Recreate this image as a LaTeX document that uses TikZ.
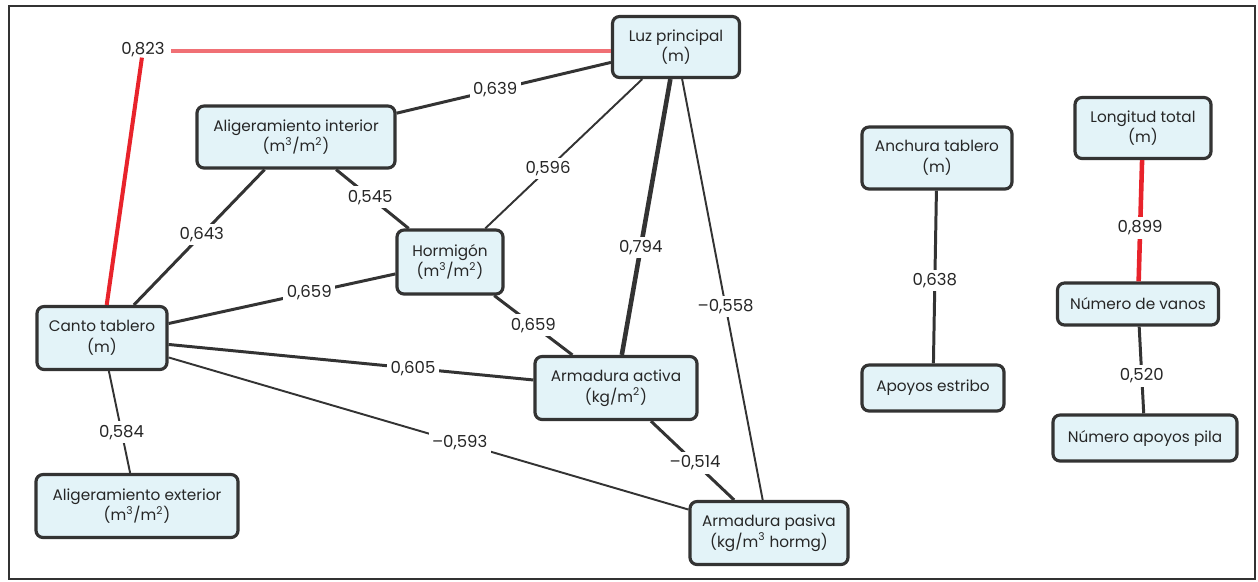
\documentclass[tikz,border=0pt]{standalone}
\usepackage{fontspec}
\setmainfont{Poppins}
\usepackage{tikz}
\definecolor{celeste}{HTML}{E3F3F8}
\definecolor{borde}{HTML}{333333}
\definecolor{rojo}{HTML}{E8232B}
\definecolor{rojoclaro}{HTML}{F07075}

\begin{document}
\begin{tikzpicture}
		\tikzstyle{every node}=[font=\fontsize{8.7}{11.8}\selectfont, text=black!85]
		\tikzstyle{caja}=[draw=borde, line width=1.8pt, rounded corners=4pt, fill=celeste, align=center, inner sep=2pt]
		\tikzstyle{valor}=[fill=white, inner sep=2pt, text=black!85, font=\fontsize{9.4}{10}\selectfont]
		\tikzstyle{fino}=[draw=borde, line width=1.1pt]
		\tikzstyle{medio}=[draw=borde, line width=1.7pt]
		\tikzstyle{grueso}=[draw=borde, line width=2.6pt]
		\useasboundingbox (0,0) rectangle (25.16,-11.62);
		\draw[borde, line width=1pt] (0.18,-0.12) rectangle (25.1,-11.58);

		\node[caja, minimum width=2.54cm, minimum height=1.22cm] (Luz) at (13.52,-0.94) {Luz principal\\(m)};
		\node[caja, minimum width=3.96cm, minimum height=1.24cm] (AligInt) at (5.92,-2.74) {Aligeramiento interior\\(m\textsuperscript{3}/m\textsuperscript{2})};
		\node[caja, minimum width=2.12cm, minimum height=1.28cm] (Hormigon) at (9.0,-5.24) {Hormigón\\(m\textsuperscript{3}/m\textsuperscript{2})};
		\node[caja, minimum width=2.6cm, minimum height=1.26cm] (Canto) at (2.04,-6.76) {Canto tablero\\(m)};
		\node[caja, minimum width=4.04cm, minimum height=1.26cm] (AligExt) at (2.74,-10.12) {Aligeramiento exterior\\(m\textsuperscript{3}/m\textsuperscript{2})};
		\node[caja, minimum width=3.24cm, minimum height=1.26cm] (ArmAct) at (12.32,-7.76) {Armadura activa\\(kg/m\textsuperscript{2})};
		\node[caja, minimum width=3.16cm, minimum height=1.26cm] (ArmPas) at (15.38,-10.66) {Armadura pasiva\\(kg/m\textsuperscript{3} hormg)};
		\node[caja, minimum width=3.0cm, minimum height=1.24cm] (Anchura) at (18.74,-3.16) {Anchura tablero\\(m)};
		\node[caja, minimum width=2.84cm, minimum height=0.92cm] (Apoyos) at (18.66,-7.76) {Apoyos estribo};
		\node[caja, minimum width=2.72cm, minimum height=1.22cm] (Longitud) at (22.86,-2.56) {Longitud total\\(m)};
		\node[caja, minimum width=3.22cm, minimum height=0.84cm] (Vanos) at (22.76,-6.08) {Número de vanos};
		\node[caja, minimum width=3.68cm, minimum height=0.92cm] (Pila) at (22.9,-8.76) {Número apoyos pila};
		\node[valor, inner sep=0pt] (Corr823) at (2.86,-1.0) {0,823};

		\draw[rojo, line width=2.3pt] (Canto) -- (Corr823);
		\draw[rojoclaro, line width=2.8pt] (Corr823.east) ++(0.12,-0.02) -- (Luz.west |- 0,-1.02);

		\draw[medio] (Luz) -- node[valor, pos=0.54] {0,639} (AligInt);
		\draw[fino] (Luz) -- node[valor, pos=0.6] {0,596} (Hormigon);
		\draw[grueso] (Luz) -- node[valor, pos=0.61] {0,794} (ArmAct);
		\draw[fino] (Luz) -- node[valor, pos=0.54] {--0,558} (ArmPas);
		\draw[medio] (AligInt) -- node[valor, pos=0.47] {0,545} (Hormigon);
		\draw[medio] (AligInt) -- node[valor, pos=0.48] {0,643} (Canto);
		\draw[medio] (Hormigon) -- node[valor, pos=0.38] {0,659} (Canto);
		\draw[medio] (Hormigon) -- node[valor, pos=0.5] {0,659} (ArmAct);
		\draw[medio] (Canto) -- node[valor, pos=0.67] {0,605} (ArmAct);
		\draw[fino] (Canto) -- node[valor, pos=0.56] {--0,593} (ArmPas);
		\draw[medio] (ArmAct) -- node[valor, pos=0.53] {--0,514} (ArmPas);
		\draw[fino] (Canto) -- node[valor, pos=0.6] {0,584} (AligExt);
		\draw[medio] (Anchura) -- node[valor, pos=0.52] {0,638} (Apoyos);
		\draw[rojo, line width=2.6pt] (Longitud) -- node[valor, pos=0.56] {0,899} (Vanos);
		\draw[medio] (Vanos) -- node[valor, pos=0.57] {0,520} (Pila);
\end{tikzpicture}
\end{document}
